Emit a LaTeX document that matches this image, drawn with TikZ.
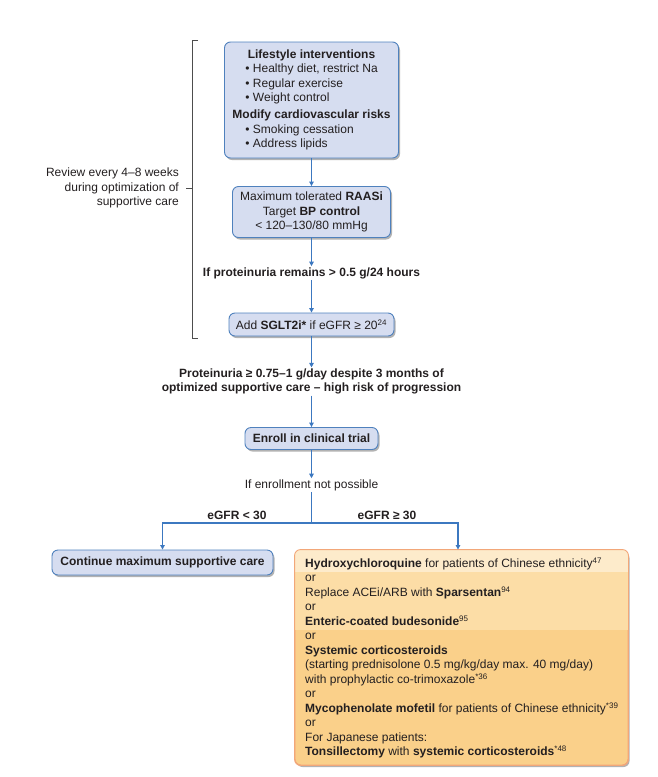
\documentclass[tikz,border=0pt]{standalone}
\usepackage{fontspec}
\setmainfont{Liberation Sans}
\usetikzlibrary{arrows.meta,shadows}
\definecolor{boxfill}{HTML}{D6DDF0}
\definecolor{boxline}{HTML}{4F81BD}
\definecolor{arrowc}{HTML}{3C78C0}
\definecolor{txt}{HTML}{231F20}
\definecolor{brk}{HTML}{4D4D4D}
\definecolor{oline}{HTML}{F2A779}
\definecolor{bandA}{HTML}{FDEBCB}
\definecolor{bandB}{HTML}{FCDDA6}
\definecolor{bandC}{HTML}{FAD08A}
\begin{document}
\begin{tikzpicture}[x=1pt,y=-1pt,
  font=\fontsize{12}{14.5}\selectfont, text=txt,
  bbox/.style={draw=boxline, fill=boxfill, line width=0.9pt, rounded corners=6pt,
    drop shadow={shadow xshift=1.5pt, shadow yshift=-2pt, opacity=0.3, fill=black},
    inner sep=0pt, align=center},
  obox/.style={draw=oline, fill=bandC, line width=0.9pt, rounded corners=6pt,
    drop shadow={shadow xshift=1.5pt, shadow yshift=-2pt, opacity=0.3, fill=black},
    inner sep=0pt},
  arr/.style={draw=arrowc, line width=1.1pt, -{Triangle[length=4.5pt,width=4.5pt]}},
  ln/.style={draw=arrowc, line width=1.1pt},
  lbl/.style={align=center, inner sep=1pt},
  brkline/.style={draw=brk, line width=0.9pt}]
\useasboundingbox (0,0) rectangle (658,777);

% bracket
\coordinate (bt) at (198,40);
\coordinate (btc) at (192,40);
\coordinate (bb) at (198,338);
\coordinate (bbc) at (192,338);
\coordinate (bm) at (192,188);
\coordinate (bml) at (186,188);
\draw[brkline] (bt) -- (btc) -- (bbc) -- (bb);
\draw[brkline] (bml) -- (bm);
\node[anchor=east, align=right, inner sep=0pt] (rev) at (179,188)
  {Review every 4--8 weeks\\during optimization of\\supportive care};

% boxes
\node[bbox, minimum width=174, minimum height=116] (b1) at (311.5,100)
 {\begin{tabular}{@{}l@{}}
  \multicolumn{1}{@{}c@{}}{\textbf{Lifestyle interventions}}\\
  \hspace{13pt}• Healthy diet, restrict Na\\
  \hspace{13pt}• Regular exercise\\
  \hspace{13pt}• Weight control\\[2.5pt]
  \multicolumn{1}{@{}c@{}}{\textbf{Modify cardiovascular risks}}\\
  \hspace{13pt}• Smoking cessation\\
  \hspace{13pt}• Address lipids
  \end{tabular}};

\node[bbox, minimum width=158, minimum height=51] (b2) at (311.5,212)
 {Maximum tolerated \textbf{RAASi}\\Target \textbf{BP control}\\< 120--130/80 mmHg};

\node[lbl] (t1) at (311.5,273) {\textbf{If proteinuria remains > 0.5 g/24 hours}};

\node[bbox, minimum width=165, minimum height=23] (b3) at (311.5,324.5)
 {Add \textbf{SGLT2i*} if eGFR ≥ 20\textsuperscript{24}};

\node[lbl] (t2) at (311.5,381.5)
 {\textbf{Proteinuria ≥ 0.75--1 g/day despite 3 months of}\\
  \textbf{optimized supportive care -- high risk of progression}};

\node[bbox, minimum width=133, minimum height=22] (b4) at (311.5,438.5)
 {\textbf{Enroll in clinical trial}};

\node[lbl] (t3) at (311.5,485) {If enrollment not possible};

\coordinate (sj) at (311.5,523);

\node[lbl] (l1) at (237,515) {\textbf{eGFR < 30}};
\node[lbl] (l2) at (387,515) {\textbf{eGFR ≥ 30}};

\node[bbox, minimum width=221, minimum height=25] (b5) at (162.5,562.5)
 {\textbf{Continue maximum supportive care}};

\node[obox, minimum width=333, minimum height=215] (b6) at (461.5,657.5) {};
\begin{scope}
  \clip[rounded corners=6pt] (b6.north west) rectangle (b6.south east);
  \fill[bandA] (b6.north west) rectangle (628,572);
  \fill[bandB] (295,572) rectangle (628,630);
\end{scope}
\draw[draw=oline, line width=0.9pt, rounded corners=6pt] (b6.north west) rectangle (b6.south east);

\node[anchor=north west, inner sep=0pt, align=left] (b6t) at (305,557)
 {\strut\textbf{Hydroxychloroquine} for patients of Chinese ethnicity\textsuperscript{47}\\
  or\\
  Replace ACEi/ARB with \textbf{Sparsentan}\textsuperscript{94}\\
  or\\
  \textbf{Enteric-coated budesonide}\textsuperscript{95}\\
  or\\
  \textbf{Systemic corticosteroids}\\
  (starting prednisolone 0.5 mg/kg/day max. 40 mg/day)\\
  with prophylactic co-trimoxazole\textsuperscript{*36}\\
  or\\
  \textbf{Mycophenolate mofetil} for patients of Chinese ethnicity\textsuperscript{*39}\\
  or\\
  For Japanese patients:\\
  \textbf{Tonsillectomy} with \textbf{systemic corticosteroids}\textsuperscript{*48}};

% connectors
\draw[arr] (b1.south) -- (b2.north);
\draw[arr] (b2.south) -- (t1.north);
\draw[arr] (t1.south) -- (b3.north);
\draw[arr] (b3.south) -- (t2.north);
\draw[arr] (t2.south) -- (b4.north);
\draw[arr] (b4.south) -- (t3.north);
\draw[ln] (t3.south) -- (sj);
\draw[arr] (sj) -| (b5.north);
\draw[arr] (sj) -| ([xshift=-3.5pt]b6.north);
\end{tikzpicture}
\end{document}
